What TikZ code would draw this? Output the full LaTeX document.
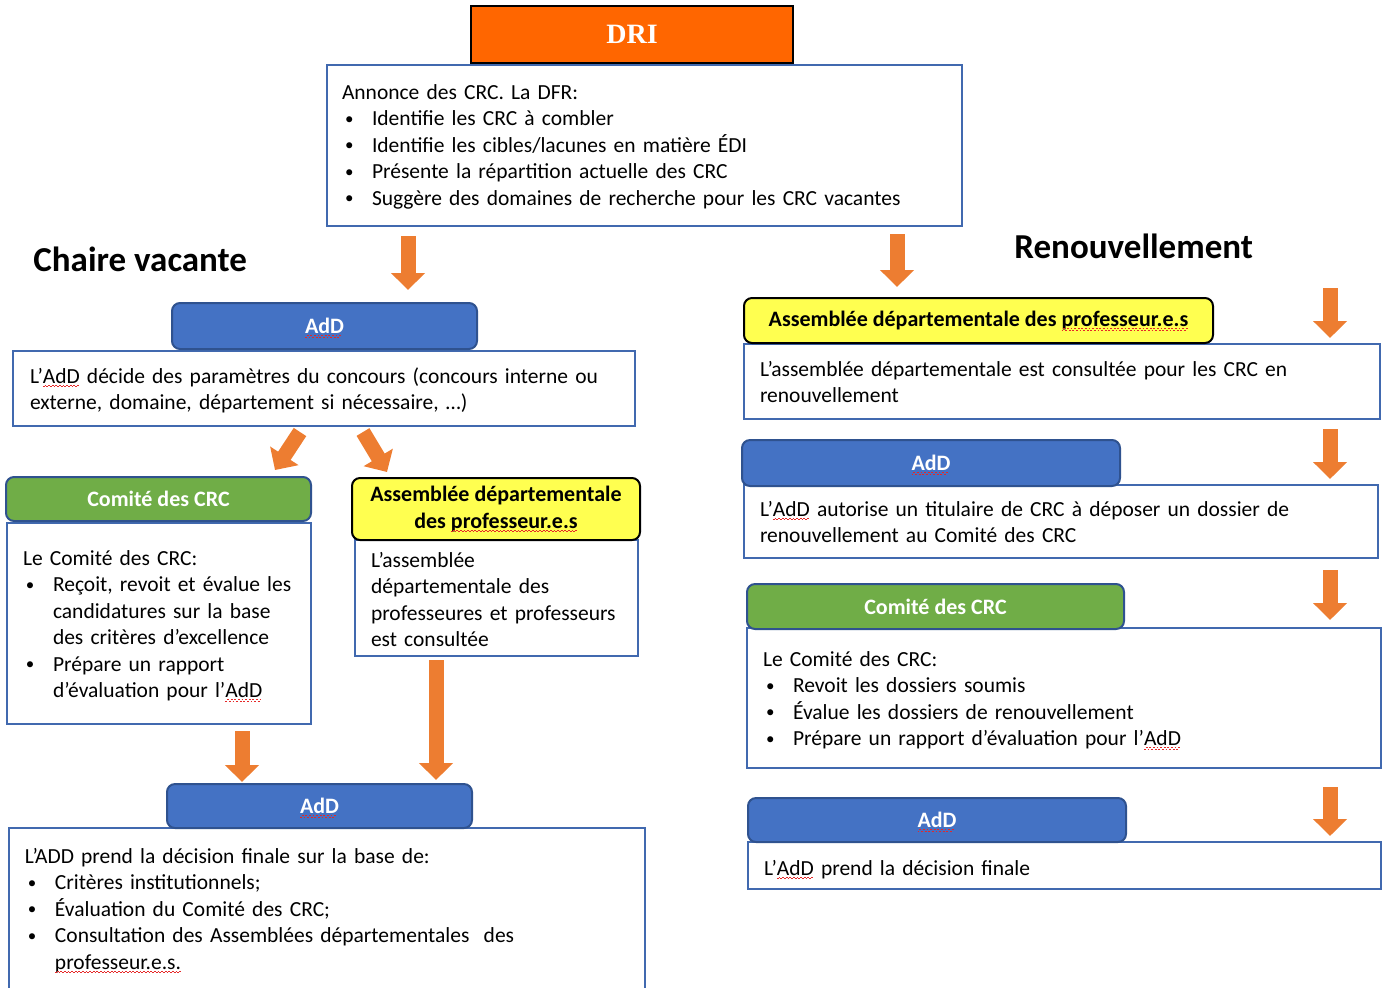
\documentclass[tikz,border=0pt]{standalone}
\usepackage{fontspec}
\setmainfont{Carlito}
\newfontfamily\dritf{Liberation Serif}
\usetikzlibrary{arrows.meta,calc}
\definecolor{boxblue}{RGB}{65,105,175}
\definecolor{addblue}{RGB}{68,114,196}
\definecolor{addedge}{RGB}{47,82,143}
\definecolor{comgreen}{RGB}{112,173,71}
\definecolor{asmyellow}{RGB}{255,255,80}
\definecolor{driorange}{RGB}{255,102,0}
\definecolor{arroworange}{RGB}{237,125,49}
\definecolor{spell}{RGB}{230,40,40}
\newsavebox\sqbox
\newcommand\sq[1]{\sbox\sqbox{#1}\leavevmode\rlap{\usebox\sqbox}\raisebox{-2pt}[0pt][0pt]{\textcolor{spell}{\leaders\hbox{\rule{0.9pt}{0.45pt}\raisebox{0.7pt}{\rule{0.9pt}{0.45pt}}}\hskip\wd\sqbox}}}
\newcommand\fs{\fontsize{10.75}{13.25}\selectfont}
\newcommand\hfs{\fontsize{11}{13.3}\selectfont}
\newcommand\bitem[1]{\par\hangindent=15pt\hangafter=1\noindent\makebox[15pt][l]{\hspace{1.5pt}\raisebox{0.7pt}{\fontsize{8.5}{8}\selectfont\textbullet}}#1\par}
\begin{document}
\begin{tikzpicture}[x=0.5pt,y=-0.5pt,
  bx/.style={draw=boxblue,line width=1pt,fill=white,inner sep=0pt,outer sep=0pt,anchor=north west},
  hd/.style={rounded corners=4pt,line width=1pt,inner sep=0pt,outer sep=0pt,anchor=north west,font=\hfs\bfseries},
  addh/.style={hd,fill=addblue,draw=addedge,text=white},
  comh/.style={hd,fill=comgreen,draw=addedge,text=white},
  asmh/.style={hd,fill=asmyellow,draw=black,text=black,align=center},
  txt/.style={anchor=base west,inner sep=0pt,outer sep=0pt,text width=340pt,align=left,font=\fs},
  fat/.style={draw=arroworange,line width=7.5pt,-{Triangle[width=16.5pt,length=8.5pt]}},
  sz/.style 2 args={minimum width=#1*0.5pt,minimum height=#2*0.5pt},
  heading/.style={anchor=base west,inner sep=0pt,font=\fontsize{17.5}{21}\selectfont\bfseries}
]
\useasboundingbox (0,0) rectangle (1385,987);

% top
\node[anchor=north west,sz={322}{57},fill=driorange,draw=black,line width=1pt,inner sep=0pt,outer sep=0pt,text=white,font=\dritf\bfseries\fontsize{14}{16}\selectfont] (dri) at (471,6) {DRI};
\node[bx,sz={635}{161}] (dfr) at (327,65) {};
\node[txt] (dfrt) at (342,99) {Annonce des CRC. La DFR:\bitem{Identifie les CRC à combler}\bitem{Identifie les cibles/lacunes en matière ÉDI}\bitem{Présente la répartition actuelle des CRC}\bitem{Suggère des domaines de recherche pour les CRC vacantes}};

\node[heading] (chv) at (33,271) {Chaire vacante};
\node[heading] (ren) at (1014,258) {Renouvellement};

% left column bodies
\node[bx,sz={622}{75}] (b1) at (13,351) {};
\node[txt] (b1t) at (30,383) {L’\sq{AdD} décide des paramètres du concours (concours interne ou\newline externe, domaine, département si nécessaire, …)};
\node[bx,sz={304}{201}] (b2) at (7,523) {};
\node[txt] (b2t) at (23,565) {Le Comité des CRC:\bitem{Reçoit, revoit et évalue les\newline candidatures sur la base\newline des critères d’excellence}\bitem{Prépare un rapport\newline d’évaluation pour l’\sq{AdD}}};
\node[bx,sz={283}{116}] (b3) at (355,540) {};
\node[txt] (b3t) at (371,567) {L’assemblée\newline départementale des\newline professeures et professeurs\newline est consultée};
\node[bx,sz={636}{180}] (b4) at (9,828) {};
\node[txt] (b4t) at (25,863) {L’ADD prend la décision finale sur la base de:\bitem{Critères institutionnels;}\bitem{Évaluation du Comité des CRC;}\bitem{Consultation des Assemblées départementales~ des\newline \sq{professeur.e.s.}}};

% left headers
\node[addh,sz={305}{46}] (add1) at (172,303) {\sq{AdD}};
\node[comh,sz={305}{44}] (com1) at (6,477) {Comité des CRC};
\node[asmh,sz={288}{62}] (asm1) at (352,478) {Assemblée départementale\\des \sq{professeur.e.s}};
\node[addh,sz={305}{44}] (add2) at (167,784) {\sq{AdD}};

% right column bodies
\node[bx,sz={636}{75}] (r1) at (744,344) {};
\node[txt] (r1t) at (760,376) {L’assemblée départementale est consultée pour les CRC en\newline renouvellement};
\node[bx,sz={634}{73}] (r2) at (744,485) {};
\node[txt] (r2t) at (760,516) {L’\sq{AdD} autorise un titulaire de CRC à déposer un dossier de\newline renouvellement au Comité des CRC};
\node[bx,sz={634}{140}] (r3) at (747,628) {};
\node[txt] (r3t) at (763,666) {Le Comité des CRC:\bitem{Revoit les dossiers soumis}\bitem{Évalue les dossiers de renouvellement}\bitem{Prépare un rapport d’évaluation pour l’\sq{AdD}}};
\node[bx,sz={633}{47}] (r4) at (748,842) {};
\node[txt] (r4t) at (764,875) {L’\sq{AdD} prend la décision finale};

% right headers
\node[asmh,sz={469}{45}] (asm2) at (744,298) {Assemblée départementale des \sq{professeur.e.s}};
\node[addh,sz={378}{46}] (add3) at (742,440) {\sq{AdD}};
\node[comh,sz={377}{45}] (com2) at (747,584) {Comité des CRC};
\node[addh,sz={378}{44}] (add4) at (748,798) {\sq{AdD}};

% arrows
\draw[fat] ($(dfr.south west)+(81,10)$) -- ($(add1.north west)+(236,-13)$);
\draw[fat] ($(dfr.south west)+(570,8)$) -- ($(asm2.north west)+(153,-11)$);
\draw[fat] ($(b1.south west)+(287,6)$) -- ($(com1.north west)+(269,-7)$);
\draw[fat] ($(b1.south west)+(350,6)$) -- ($(asm1.north west)+(35,-6)$);
\draw[fat] ($(b2.south west)+(235,7)$) -- ($(add2.north west)+(75,-2)$);
\draw[fat] ($(b3.south west)+(81,4)$) -- ($(add2.north west)+(269,-4)$);
\draw[fat] ($(asm2.north east)+(117,-10)$) -- ($(r1.north east)+(-50,-6)$);
\draw[fat] ($(r1.south east)+(-50,10)$) -- ($(r2.north east)+(-48,-6)$);
\draw[fat] ($(r2.south east)+(-48,12)$) -- ($(r3.north east)+(-51,-8)$);
\draw[fat] ($(r3.south east)+(-51,19)$) -- ($(r4.north east)+(-51,-6)$);
\end{tikzpicture}
\end{document}
